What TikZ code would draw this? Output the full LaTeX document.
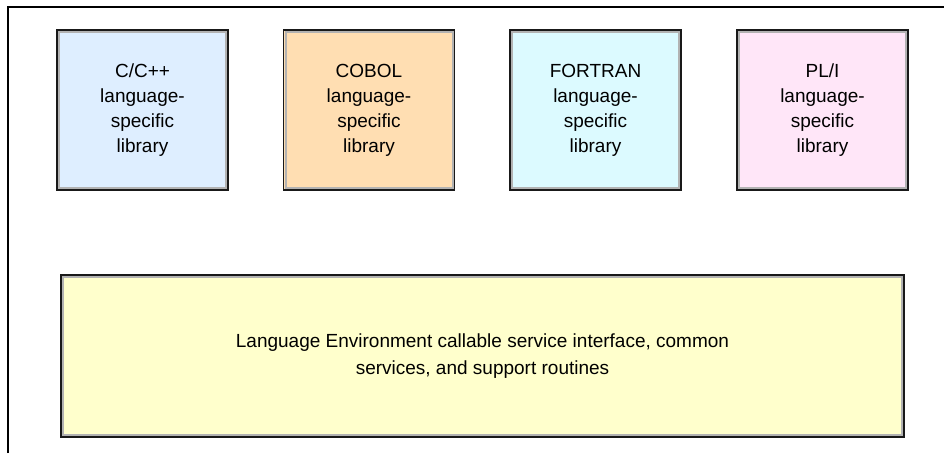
\documentclass[tikz,border=0pt]{standalone}
\usepackage{fontspec}
\setmainfont{Liberation Sans}
\usepackage{tikz}
\usetikzlibrary{calc,positioning}
\definecolor{cppblue}{RGB}{222,238,255}
\definecolor{cobolpeach}{RGB}{255,222,178}
\definecolor{fortrancyan}{RGB}{220,250,255}
\definecolor{plipink}{RGB}{255,230,248}
\definecolor{leyellow}{RGB}{255,255,204}
\definecolor{bevelgray}{RGB}{178,178,178}
\tikzset{
  libbox/.style  = {draw=black!90, line width=1.5pt, minimum width=171pt, minimum height=160pt,
                    align=center, inner sep=0pt, outer sep=0pt,
                    font=\fontsize{19}{25}\selectfont},
  basebox/.style = {libbox, minimum width=843pt, minimum height=162pt,
                    font=\fontsize{19}{27}\selectfont},
  bevel/.style   = {draw=bevelgray, line width=2pt},
  frame/.style   = {line width=1.2pt},
}
\begin{document}
\begin{tikzpicture}[x=1pt,y=1pt]
  \useasboundingbox (0,0) rectangle (944,453);
  \draw[frame] (8,0) -- (8,446) -- (944,446);
  % language-specific libraries
  \node[libbox, fill=cppblue]     (cpp)     at (142.5,343) {C/C++\\language-\\specific\\library};
  \node[libbox, fill=cobolpeach]  (cobol)   at (369,343)   {COBOL\\language-\\specific\\library};
  \node[libbox, fill=fortrancyan] (fortran) at (595.5,343) {FORTRAN\\language-\\specific\\library};
  \node[libbox, fill=plipink]     (pli)     at (822.5,343) {PL/I\\language-\\specific\\library};
  % common base
  \node[basebox, fill=leyellow] (lebase) at (482.5,97)
    {Language Environment callable service interface, common\\services, and support routines};
  \foreach \n in {cpp,cobol,fortran,pli,lebase}
    \draw[bevel] ($(\n.south west)+(2,2)$) rectangle ($(\n.north east)-(2,2)$);
\end{tikzpicture}
\end{document}
